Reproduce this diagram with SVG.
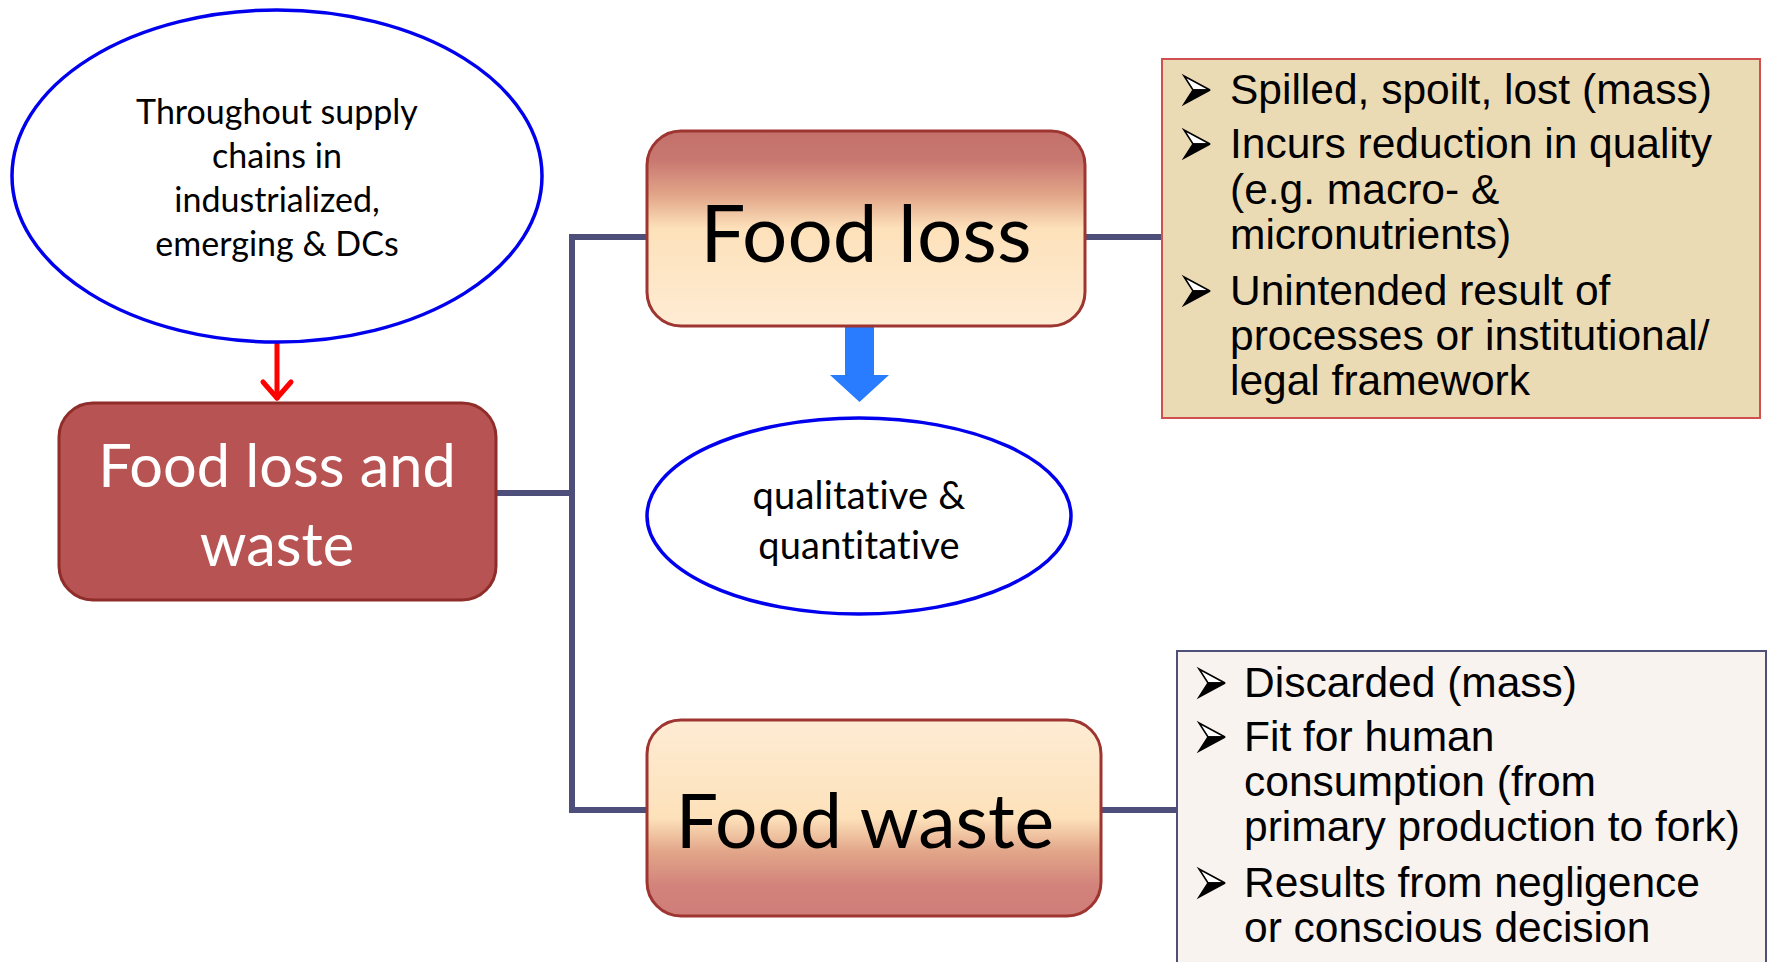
<svg xmlns="http://www.w3.org/2000/svg" width="1769" height="962" viewBox="0 0 1769 962">
<style>
.gill{font-family:Lato,"Open Sans","DejaVu Sans",sans-serif;font-variant-ligatures:none;font-feature-settings:"liga" 0,"clig" 0,"calt" 0,"dlig" 0;}
.arial{font-family:"Liberation Sans",Arial,sans-serif;font-size:42.5px;fill:#000;}
.conn{fill:none;stroke:#4D4F7A;stroke-width:6;}
.oval{fill:#fff;stroke:#0000EE;stroke-width:3.5;}
</style>
<defs>
<linearGradient id="gLoss" x1="0" y1="0" x2="0" y2="1">
<stop offset="0" stop-color="#C4706B"/>
<stop offset="0.15" stop-color="#C87870"/>
<stop offset="0.33" stop-color="#E2A689"/>
<stop offset="0.5" stop-color="#FDE1BA"/>
<stop offset="1" stop-color="#FEECD4"/>
</linearGradient>
<linearGradient id="gWaste" x1="0" y1="0" x2="0" y2="1">
<stop offset="0" stop-color="#FEECD4"/>
<stop offset="0.5" stop-color="#FDE1BA"/>
<stop offset="0.67" stop-color="#E2A689"/>
<stop offset="0.85" stop-color="#D2827B"/>
<stop offset="1" stop-color="#CF7D79"/>
</linearGradient>
<g id="bul">
<polygon points="0,0 26,14 9,14" fill="#fff" stroke="#000" stroke-width="1.6" stroke-linejoin="miter"/>
<polygon points="9,14 26,14 0,28" fill="#000" stroke="#000" stroke-width="1.6"/>
</g>
</defs>
<rect width="1769" height="962" fill="#fff"/>

<g id="connectors">
<polyline class="conn" points="496,493 572,493"/>
<polyline class="conn" points="647,237 572,237 572,810 647,810"/>
<line class="conn" x1="1085" y1="237" x2="1162" y2="237"/>
<line class="conn" x1="1101" y1="810" x2="1177" y2="810"/>
<g id="red-arrow" fill="none" stroke="#FF0000" stroke-width="5" stroke-linecap="round" stroke-linejoin="round">
<line x1="277" y1="343" x2="277" y2="398"/>
<polyline points="263,382 277,398 291,382"/>
</g>
<polygon id="blue-arrow" fill="#297BFF" points="845,327 874,327 874,375 889,375 859.5,402 830,375 845,375"/>
</g>

<g id="supply-chains">
<ellipse class="oval" cx="277" cy="176" rx="265" ry="166"/>
<g class="gill" font-size="34" text-anchor="middle" fill="#000">
<text x="277" y="124">Throughout supply</text>
<text x="277" y="168">chains in</text>
<text x="277" y="212">industrialized,</text>
<text x="277" y="256">emerging &amp; DCs</text>
</g>
</g>

<g id="flw">
<rect x="59" y="403" width="437" height="197" rx="34" ry="34" fill="#B85353" stroke="#8E2D29" stroke-width="3"/>
<g class="gill" font-size="59.5" text-anchor="middle" fill="#fff">
<text x="277" y="487">Food loss and</text>
<text x="277" y="566">waste</text>
</g>
</g>

<g id="food-loss">
<rect x="647" y="131" width="438" height="195" rx="34" ry="34" fill="url(#gLoss)" stroke="#9E3530" stroke-width="3"/>
<text class="gill" x="866" y="262" font-size="80" text-anchor="middle" fill="#000">Food loss</text>
</g>

<g id="qual-quant">
<ellipse class="oval" cx="859" cy="516" rx="212" ry="98"/>
<g class="gill" font-size="38" text-anchor="middle" fill="#000" letter-spacing="0.2">
<text x="859" y="509">qualitative &amp;</text>
<text x="859" y="559">quantitative</text>
</g>
</g>

<g id="food-waste">
<rect x="647" y="720" width="454" height="196" rx="34" ry="34" fill="url(#gWaste)" stroke="#9E3530" stroke-width="3"/>
<text class="gill" x="865" y="848" font-size="75" text-anchor="middle" fill="#000">Food waste</text>
</g>

<g id="loss-notes">
<rect x="1162" y="59" width="598" height="359" fill="#EBDBB5" stroke="#D05050" stroke-width="2"/>
<use href="#bul" x="1184" y="76"/>
<use href="#bul" x="1184" y="130"/>
<use href="#bul" x="1184" y="277"/>
<g class="arial">
<text x="1230" y="104">Spilled, spoilt, lost (mass)</text>
<text x="1230" y="158">Incurs reduction in quality</text>
<text x="1230" y="204">(e.g. macro- &amp;</text>
<text x="1230" y="249">micronutrients)</text>
<text x="1230" y="305">Unintended result of</text>
<text x="1230" y="350">processes or institutional/</text>
<text x="1230" y="395">legal framework</text>
</g>
</g>

<g id="waste-notes">
<rect x="1177" y="651" width="589" height="330" fill="#F8F3EE" stroke="#4F5079" stroke-width="2"/>
<use href="#bul" x="1199" y="669"/>
<use href="#bul" x="1199" y="723"/>
<use href="#bul" x="1199" y="869"/>
<g class="arial">
<text x="1244" y="697">Discarded (mass)</text>
<text x="1244" y="751">Fit for human</text>
<text x="1244" y="796">consumption (from</text>
<text x="1244" y="841">primary production to fork)</text>
<text x="1244" y="897">Results from negligence</text>
<text x="1244" y="942">or conscious decision</text>
</g>
</g>
</svg>
